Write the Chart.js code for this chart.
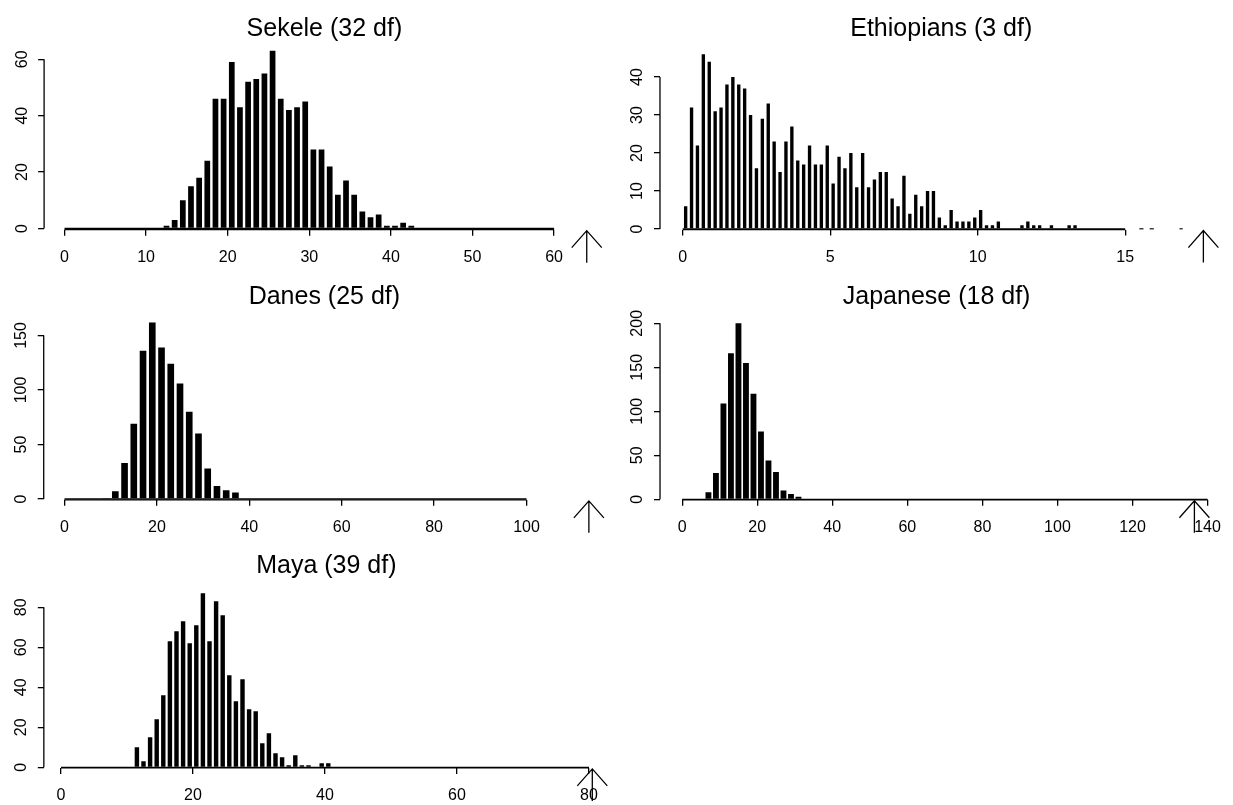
<!DOCTYPE html>
<html>
<head>
<meta charset="utf-8">
<title>Histograms</title>
<script src="https://cdn.jsdelivr.net/npm/chart.js@4.4.1/dist/chart.umd.min.js"></script>
<style>
html,body{margin:0;padding:0;background:#fff;}
body{width:1233px;height:805px;position:relative;overflow:hidden;}
canvas{position:absolute;}
</style>
</head>
<body>
<canvas id="c1"></canvas>
<canvas id="c2"></canvas>
<canvas id="c3"></canvas>
<canvas id="c4"></canvas>
<canvas id="c5"></canvas>
<script>
// ---------------- DATA ----------------
const sekeleTitle = 'Sekele (32 df)';
const sekeleBins = [12.5,13.5,14.5,15.5,16.5,17.5,18.5,19.5,20.5,21.5,22.5,23.5,24.5,25.5,26.5,27.5,28.5,29.5,30.5,31.5,32.5,33.5,34.5,35.5,36.5,37.5,38.5,39.5,40.5,41.5,42.5];
const sekeleCounts = [1,3,10,15,18,24,46,46,59,43,52,53,55,63,46,42,43,45,28,28,22,12,17,12,6,4,5,1,1,2,1];
const sekeleXTicks = [0,10,20,30,40,50,60];
const sekeleYTicks = [0,20,40,60];
const sekeleZeroLine = [0,60];
const sekeleObserved = 64;

const ethTitle = 'Ethiopians (3 df)';
const ethBins = [0.1,0.3,0.5,0.7,0.9,1.1,1.3,1.5,1.7,1.9,2.1,2.3,2.5,2.7,2.9,3.1,3.3,3.5,3.7,3.9,4.1,4.3,4.5,4.7,4.9,5.1,5.3,5.5,5.7,5.9,6.1,6.3,6.5,6.7,6.9,7.1,7.3,7.5,7.7,7.9,8.1,8.3,8.5,8.7,8.9,9.1,9.3,9.5,9.7,9.9,10.1,10.3,10.5,10.7,11.5,11.7,11.9,12.1,12.5,13.1,13.3];
const ethCounts = [6,32,22,46,44,31,32,38,40,38,37,30,16,29,33,23,15,23,27,18,17,22,17,17,22,12,19,16,20,11,20,11,13,15,15,8,6,14,4,9,6,10,10,3,1,5,2,2,2,3,5,1,1,2,1,2,1,1,1,1,1];
const ethXTicks = [0,5,10,15];
const ethYTicks = [0,10,20,30,40];
const ethZeroLine = [0,15];
const ethZeroDashes = [[15.48,15.62],[15.83,15.97],[16.84,16.95]];
const ethObserved = 17.65;

const danesTitle = 'Danes (25 df)';
const danesBins = [9,11,13,15,17,19,21,23,25,27,29,31,33,35,37];
const danesCounts = [1,7,33,69,136,162,139,124,106,80,60,28,12,8,6];
const danesXTicks = [0,20,40,60,80,100];
const danesYTicks = [0,50,100,150];
const danesZeroLine = [0,100];
const danesObserved = 113.5;

const japTitle = 'Japanese (18 df)';
const japBins = [7,9,11,13,15,17,19,21,23,25,27,29,31];
const japCounts = [8,30,109,166,200,155,120,77,44,31,10,6,3];
const japXTicks = [0,20,40,60,80,100,120,140];
const japYTicks = [0,50,100,150,200];
const japZeroLine = [0,140];
const japObserved = 136.5;

const mayaTitle = 'Maya (39 df)';
const mayaBins = [11.5,12.5,13.5,14.5,15.5,16.5,17.5,18.5,19.5,20.5,21.5,22.5,23.5,24.5,25.5,26.5,27.5,28.5,29.5,30.5,31.5,32.5,33.5,34.5,35.5,36.5,37.5,39.5,40.5];
const mayaCounts = [10,3,15,24,36,63,68,73,62,71,87,63,83,76,46,33,44,29,28,12,17,7,5,1,6,1,1,2,2];
const mayaXTicks = [0,20,40,60,80];
const mayaYTicks = [0,20,40,60,80];
const mayaZeroLine = [0,80];
const mayaObserved = 80.5;

// ---------------- LAYOUT (page pixels) ----------------
const FONT = "'Liberation Sans', Arial, Helvetica, sans-serif";
const panels = [
  {id:'c1', box:[0,0,616,268], x0:64.5, xpx:8.16, xmin:-2.5, xmax:66.2, y0:228.5, ypx:2.82, ymin:-0.4, ymax:66, titleY:36, bar:0.70,
   title:sekeleTitle, bins:sekeleBins, counts:sekeleCounts, xt:sekeleXTicks, yt:sekeleYTicks, zero:sekeleZeroLine, obs:sekeleObserved},
  {id:'c2', box:[616,0,617,268], x0:682.7, xpx:29.5, xmin:-0.77, xmax:18.3, y0:229, ypx:3.8, ymin:-0.15, ymax:48, titleY:36, bar:0.57,
   title:ethTitle, bins:ethBins, counts:ethCounts, xt:ethXTicks, yt:ethYTicks, zero:ethZeroLine, dashes:ethZeroDashes, obs:ethObserved},
  {id:'c3', box:[0,268,616,280], x0:64.5, xpx:4.62, xmin:-4.5, xmax:117, y0:499, ypx:1.09, ymin:-0.8, ymax:172, titleY:304, bar:0.72,
   title:danesTitle, bins:danesBins, counts:danesCounts, xt:danesXTicks, yt:danesYTicks, zero:danesZeroLine, obs:danesObserved},
  {id:'c4', box:[616,268,617,280], x0:682.5, xpx:3.81, xmin:-5.9, xmax:141.5, y0:499.3, ypx:0.88, ymin:-0.5, ymax:210, titleY:304, bar:0.78,
   title:japTitle, bins:japBins, counts:japCounts, xt:japXTicks, yt:japYTicks, zero:japZeroLine, obs:japObserved},
  {id:'c5', box:[0,548,616,257], x0:61, xpx:6.6, xmin:-2.6, xmax:83, y0:767.3, ypx:2.0, ymin:-0.3, ymax:92, titleY:573, bar:0.67,
   title:mayaTitle, bins:mayaBins, counts:mayaCounts, xt:mayaXTicks, yt:mayaYTicks, zero:mayaZeroLine, obs:mayaObserved}
];

function pts(xs, ys){ return xs.map((x,i)=>({x:x, y:ys[i]})); }

const rStyle = {
  id:'rStyle',
  afterDraw(chart, args, o){
    const ctx = chart.ctx, a = chart.chartArea, x = chart.scales.x, y = chart.scales.y;
    ctx.save();
    ctx.strokeStyle = '#000'; ctx.fillStyle = '#000'; ctx.lineWidth = 1.3;
    // x axis line (first to last tick)
    ctx.beginPath();
    ctx.moveTo(x.getPixelForValue(o.xt[0]), a.bottom);
    ctx.lineTo(x.getPixelForValue(o.xt[o.xt.length-1]), a.bottom);
    ctx.stroke();
    // y axis line
    ctx.beginPath();
    ctx.moveTo(a.left, y.getPixelForValue(o.yt[0]));
    ctx.lineTo(a.left, y.getPixelForValue(o.yt[o.yt.length-1]));
    ctx.stroke();
    // rotated y labels
    ctx.font = '16px ' + FONT;
    ctx.textAlign = 'center'; ctx.textBaseline = 'middle';
    o.yt.forEach(v => {
      ctx.save();
      ctx.translate(a.left - 22, y.getPixelForValue(v));
      ctx.rotate(-Math.PI/2);
      ctx.fillText(String(v), 0, 0);
      ctx.restore();
    });
    // title
    ctx.font = '25px ' + FONT;
    ctx.textAlign = 'center'; ctx.textBaseline = 'alphabetic';
    ctx.fillText(o.title, (a.left + a.right)/2, o.titleY);
    // arrow for observed value
    const px = x.getPixelForValue(o.obs), ay = a.bottom + 1;
    ctx.lineWidth = 1.3;
    ctx.beginPath();
    ctx.moveTo(px - 15, ay + 17); ctx.lineTo(px, ay); ctx.lineTo(px + 15, ay + 17);
    ctx.moveTo(px, ay); ctx.lineTo(px, ay + 32);
    ctx.stroke();
    ctx.restore();
  }
};

panels.forEach(p => {
  const [bl, bt, bw, bh] = p.box;
  const cv = document.getElementById(p.id);
  cv.width = bw; cv.height = bh;
  cv.style.left = bl + 'px'; cv.style.top = bt + 'px';
  cv.style.width = bw + 'px'; cv.style.height = bh + 'px';
  const L = p.x0 + p.xmin * p.xpx - bl;
  const R = p.x0 + p.xmax * p.xpx - bl;
  const T = p.y0 - p.ymax * p.ypx - bt;
  const B = p.y0 - p.ymin * p.ypx - bt;
  const datasets = [
    {type:'bar', data:pts(p.bins, p.counts), backgroundColor:'#000', borderWidth:0,
     barPercentage:p.bar, categoryPercentage:1, grouped:false, order:2},
    {type:'line', data:[{x:p.zero[0], y:0},{x:p.zero[1], y:0}], borderColor:'#000', borderWidth:1.3,
     pointRadius:0, fill:false, order:1}
  ];
  if (p.dashes) {
    p.dashes.forEach(d => datasets.push({type:'line', data:[{x:d[0],y:0},{x:d[1],y:0}], borderColor:'#000',
      borderWidth:1.6, pointRadius:0, fill:false, order:1}));
  }
  new Chart(cv, {
    type:'bar',
    data:{datasets:datasets},
    options:{
      responsive:false, animation:false, devicePixelRatio:1,
      layout:{padding:{left:0, top:T, right:bw - R, bottom:0}},
      plugins:{legend:{display:false}, tooltip:{enabled:false}, title:{display:false},
        rStyle:{xt:p.xt, yt:p.yt, title:p.title, titleY:p.titleY - bt, obs:p.obs}},
      scales:{
        x:{type:'linear', min:p.xmin, max:p.xmax, offset:false,
           border:{display:false},
           grid:{display:true, offset:false, drawOnChartArea:false, drawTicks:true, tickLength:6, color:'#000', lineWidth:1.3},
           ticks:{color:'#000', font:{family:FONT, size:16}, padding:12, maxRotation:0, autoSkip:false,
                  callback:v => String(v)},
           afterBuildTicks:s => { s.ticks = p.xt.map(v => ({value:v})); },
           afterFit:s => { s.height = bh - B; }},
        y:{type:'linear', min:p.ymin, max:p.ymax, offset:false,
           border:{display:false},
           grid:{display:true, offset:false, drawOnChartArea:false, drawTicks:true, tickLength:6, color:'#000', lineWidth:1.3},
           ticks:{display:false},
           afterBuildTicks:s => { s.ticks = p.yt.map(v => ({value:v})); },
           afterFit:s => { s.width = L; }}
      }
    },
    plugins:[rStyle]
  });
});
</script>
</body>
</html>
